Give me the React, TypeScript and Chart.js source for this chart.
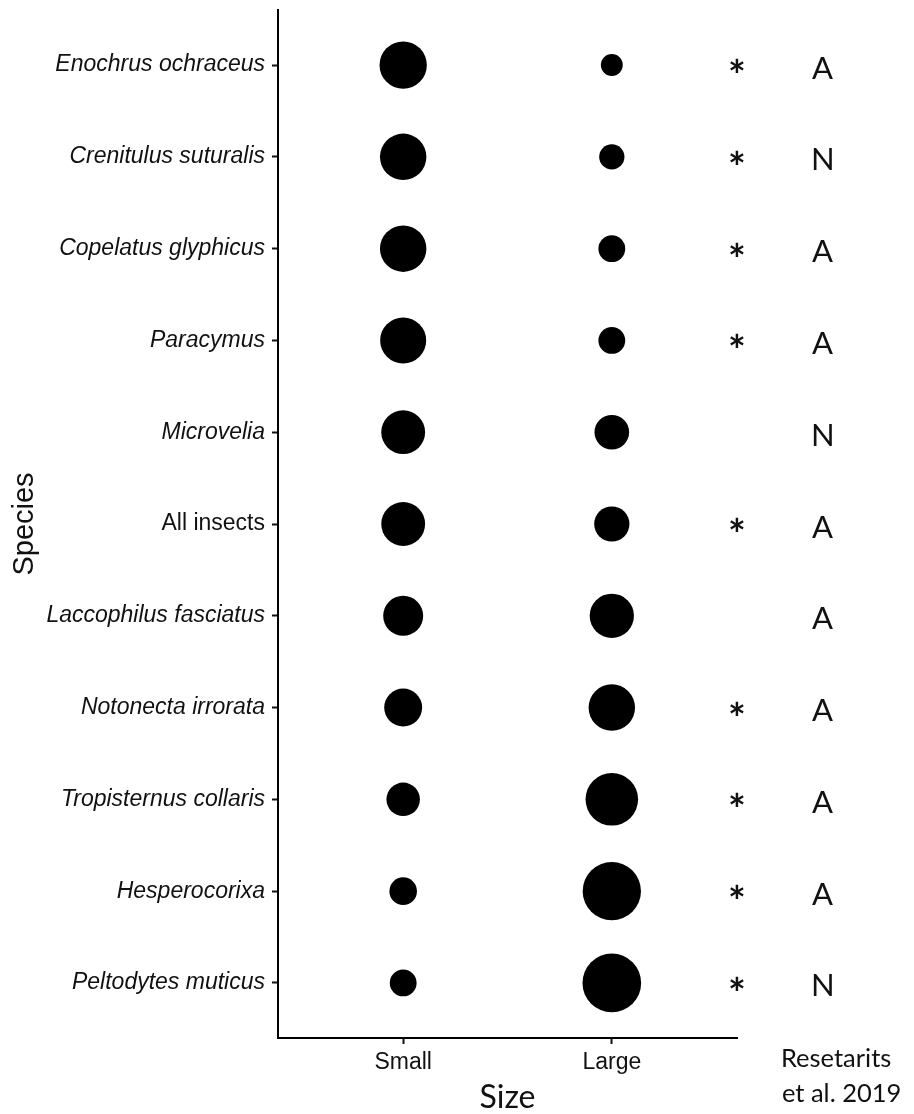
import React, { useEffect, useRef } from "react";
import { Chart, registerables } from "chart.js";

Chart.register(...registerables);

// ---- data ----
const SPECIES = [
  "Enochrus ochraceus",
  "Crenitulus suturalis",
  "Copelatus glyphicus",
  "Paracymus",
  "Microvelia",
  "All insects",
  "Laccophilus fasciatus",
  "Notonecta irrorata",
  "Tropisternus collaris",
  "Hesperocorixa",
  "Peltodytes muticus",
];
const NON_ITALIC = ["All insects"];
const SIZE_CATEGORIES = ["Small", "Large"];
// bubble magnitudes (area-proportional)
const SMALL_VALUES = [56, 54, 54, 53, 48, 48, 40, 36, 28, 19, 18];
const LARGE_VALUES = [12, 16, 18, 18, 30, 31, 49, 54, 69, 85, 86];
const SIGNIFICANT = [true, true, true, true, false, true, false, true, true, true, true];
const PRIOR_RESULT = ["A", "N", "A", "A", "N", "A", "A", "A", "A", "A", "N"];
const CITATION = ["Resetarits", "et al. 2019"];

// x-positions (in x-axis units) of the side annotation columns
const STAR_COLUMN = 2.6;
const LETTER_COLUMN = 3.01;
const CITATION_COLUMN = 2.82;

const AREA_TO_RADIUS = 10;
const radiusOf = (v: number) => Math.sqrt(v * AREA_TO_RADIUS);

const TICK_FONT = "'Liberation Sans', Arial, sans-serif";
const NOTE_FONT = "Lato, 'Open Sans', sans-serif";
const INK = "#111111";

function drawInk(ctx: CanvasRenderingContext2D, text: string, cx: number, cy: number, align: "center" | "left" = "center") {
  ctx.textAlign = "left";
  ctx.textBaseline = "alphabetic";
  const m = ctx.measureText(text);
  const asc = m.actualBoundingBoxAscent;
  const desc = m.actualBoundingBoxDescent;
  const inkW = m.actualBoundingBoxRight + m.actualBoundingBoxLeft;
  const x = align === "center" ? cx - inkW / 2 + m.actualBoundingBoxLeft : cx + m.actualBoundingBoxLeft;
  const y = cy + (asc - desc) / 2;
  ctx.fillText(text, x, y);
}

const sideNotes = {
  id: "sideNotes",
  afterDraw(chart: any) {
    const { ctx, scales, chartArea } = chart;
    const xs = scales.x;
    const ys = scales.y;
    ctx.save();
    ctx.fillStyle = INK;
    const starX = xs.getPixelForValue(STAR_COLUMN);
    const letterX = xs.getPixelForValue(LETTER_COLUMN);
    SPECIES.forEach((_, i) => {
      const rowY = ys.getPixelForValue(i + 1);
      if (SIGNIFICANT[i]) {
        ctx.font = `bold 42px ${NOTE_FONT}`;
        drawInk(ctx, "*", starX, rowY + 0.5);
      }
      ctx.font = `31px ${NOTE_FONT}`;
      drawInk(ctx, PRIOR_RESULT[i], letterX, rowY + 2.5);
    });
    ctx.font = `25.5px ${NOTE_FONT}`;
    const citeX = xs.getPixelForValue(CITATION_COLUMN);
    drawInk(ctx, CITATION[0], citeX, chartArea.bottom + 19, "left");
    drawInk(ctx, CITATION[1], citeX, chartArea.bottom + 54, "left");
    ctx.restore();
  },
};

export default function App() {
  const canvasRef = useRef<HTMLCanvasElement | null>(null);

  useEffect(() => {
    if (!canvasRef.current) return;
    const makeData = (values: number[], xIndex: number) =>
      values.map((v, i) => ({ x: xIndex, y: i + 1, r: radiusOf(v) }));

    const chart = new Chart(canvasRef.current, {
      type: "bubble",
      data: {
        datasets: [
          {
            label: SIZE_CATEGORIES[0],
            data: makeData(SMALL_VALUES, 1),
            backgroundColor: "#000000",
            borderWidth: 0,
          },
          {
            label: SIZE_CATEGORIES[1],
            data: makeData(LARGE_VALUES, 2),
            backgroundColor: "#000000",
            borderWidth: 0,
          },
        ],
      },
      plugins: [sideNotes],
      options: {
        animation: false,
        responsive: false,
        devicePixelRatio: 1,
        layout: { autoPadding: false, padding: { top: 10, right: 177, bottom: 0, left: 0 } },
        plugins: {
          legend: { display: false },
          tooltip: { enabled: false },
        },
        scales: {
          x: {
            type: "linear",
            min: 0.4,
            max: 2.6,
            afterBuildTicks: (s: any) => {
              s.ticks = SIZE_CATEGORIES.map((_, i) => ({ value: i + 1 }));
            },
            afterFit: (s: any) => {
              s.height = 76;
              s.paddingLeft = 0;
              s.paddingRight = 0;
            },
            ticks: {
              callback: (v: any) => SIZE_CATEGORIES[Math.round(v) - 1] ?? "",
              font: { family: TICK_FONT, size: 23 },
              color: "#111111",
              padding: 5,
              maxRotation: 0,
              autoSkip: false,
            },
            grid: {
              display: true,
              drawOnChartArea: false,
              drawTicks: true,
              tickLength: 6,
              tickWidth: 2,
              tickColor: "#111111",
            },
            border: { display: true, color: "#000000", width: 2 },
            title: {
              display: true,
              text: "Size",
              color: INK,
              font: { family: NOTE_FONT, size: 32, lineHeight: 1 },
              padding: { top: 0, bottom: 0 },
            },
          },
          y: {
            type: "linear",
            reverse: true,
            min: 0.4,
            max: 11.6,
            afterBuildTicks: (s: any) => {
              s.ticks = SPECIES.map((_, i) => ({ value: i + 1 }));
            },
            afterFit: (s: any) => {
              s.width = 278;
              s.paddingTop = 0;
              s.paddingBottom = 0;
            },
            ticks: {
              callback: (v: any) => SPECIES[Math.round(v) - 1] ?? "",
              font: (c: any) => {
                const name = c && c.tick ? SPECIES[Math.round(c.tick.value) - 1] : "";
                return {
                  family: TICK_FONT,
                  size: 23,
                  style: NON_ITALIC.includes(name) ? "normal" : "italic",
                };
              },
              color: "#111111",
              padding: 7,
              autoSkip: false,
            },
            grid: {
              display: true,
              drawOnChartArea: false,
              drawTicks: true,
              tickLength: 6,
              tickWidth: 2,
              tickColor: "#111111",
            },
            border: { display: true, color: "#000000", width: 2 },
            title: {
              display: true,
              text: "Species",
              color: INK,
              font: { family: TICK_FONT, size: 29, lineHeight: 1 },
              padding: { top: 10, bottom: 0 },
            },
          },
        },
      } as any,
    });
    return () => chart.destroy();
  }, []);

  return (
    <div style={{ position: "absolute", left: 0, top: 0, width: 914, height: 1114, background: "#ffffff" }}>
      <canvas ref={canvasRef} width={914} height={1114} style={{ display: "block" }} />
    </div>
  );
}
